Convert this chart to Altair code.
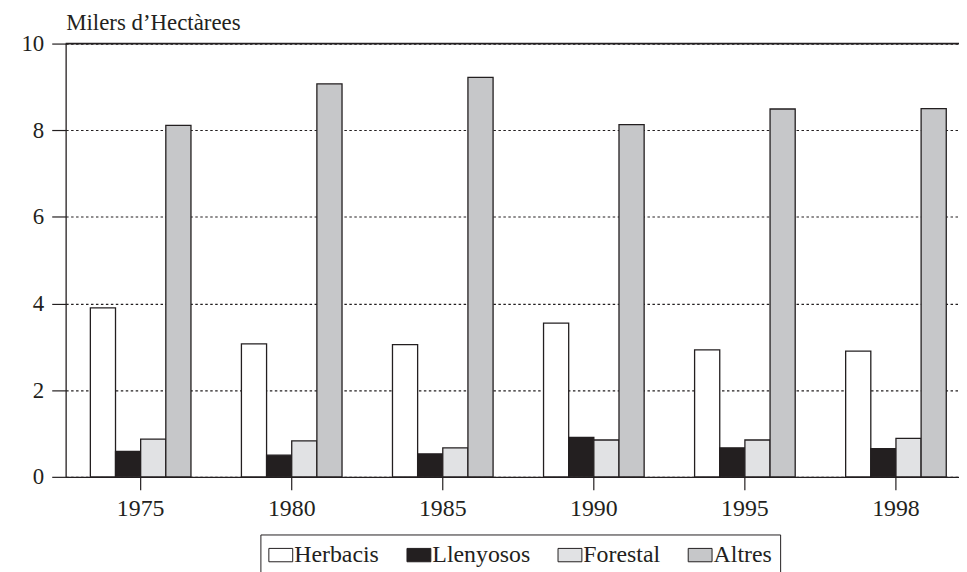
import altair as alt
import pandas as pd

years = ["1975", "1980", "1985", "1990", "1995", "1998"]
categories = ["Herbacis", "Llenyosos", "Forestal", "Altres"]
herbacis = [3.90, 3.07, 3.05, 3.55, 2.93, 2.90]
llenyosos = [0.59, 0.50, 0.53, 0.91, 0.67, 0.65]
forestal = [0.87, 0.83, 0.67, 0.85, 0.85, 0.89]
altres = [8.11, 9.07, 9.22, 8.13, 8.49, 8.50]
colors = ["#ffffff", "#231f20", "#e1e2e4", "#c6c7c9"]
y_ticks = [0, 2, 4, 6, 8, 10]

series = [herbacis, llenyosos, forestal, altres]
rows = []
for cat, vals in zip(categories, series):
    for yr, v in zip(years, vals):
        rows.append({"year": yr, "cat": cat, "value": v})
df = pd.DataFrame(rows)

INK = "#231f20"
FONT = "Liberation Serif"

bars = alt.Chart(df).mark_bar(stroke=INK, strokeWidth=1.3).encode(
    x=alt.X(
        "year:N",
        sort=years,
        scale=alt.Scale(paddingInner=0.334, paddingOuter=0.124, align=0.66),
        axis=alt.Axis(
            title=None, labelAngle=0, tickSize=13, labelPadding=7,
            labelFont=FONT, labelFontSize=24, labelColor=INK,
            domainColor=INK, tickColor=INK, domainWidth=1.3, tickWidth=1.2,
        ),
    ),
    xOffset=alt.XOffset("cat:N", sort=categories,
                        scale=alt.Scale(paddingInner=0, paddingOuter=0)),
    y=alt.Y(
        "value:Q",
        scale=alt.Scale(domain=[0, 10], nice=False),
        axis=alt.Axis(
            values=y_ticks, title="Milers d’Hectàrees", titleAngle=0,
            titleX=0, titleY=-14, titleAlign="left", titleBaseline="alphabetic",
            titleFont=FONT, titleFontSize=23, titleFontWeight="normal", titleColor=INK,
            grid=True, gridDash=[2.5, 2.5], gridColor=INK, gridWidth=1.2,
            tickSize=14, labelPadding=8, labelFont=FONT, labelFontSize=23,
            labelColor=INK, domainColor=INK, tickColor=INK, domainWidth=1.3,
            tickWidth=1.2,
        ),
    ),
    color=alt.Color(
        "cat:N",
        sort=categories,
        scale=alt.Scale(domain=categories, range=colors),
        legend=alt.Legend(
            title=None, orient="none", legendX=196, legendY=494,
            direction="horizontal", columns=4,
            symbolType="M-1,-0.56H1V0.56H-1Z", symbolSize=576,
            symbolStrokeColor=INK, symbolStrokeWidth=1, symbolOpacity=1,
            labelFont=FONT, labelFontSize=24, labelColor=INK, labelOffset=1,
            labelLimit=0, columnPadding=25, padding=8,
            strokeColor=INK, fillColor="white",
        ),
    ),
)

top_rule = alt.Chart(pd.DataFrame({"value": [10]})).mark_rule(
    color=INK, strokeWidth=1.8
).encode(y="value:Q")

chart = alt.layer(bars, top_rule).properties(
    width=899,
    height=436,
    autosize=alt.AutoSizeParams(type="none"),
    padding={"left": 58, "top": 34, "right": 0, "bottom": 100},
).configure_view(stroke=None).configure_legend(strokeWidth=1)

chart.save("out.html", embed_options={"renderer": "svg", "actions": False})
